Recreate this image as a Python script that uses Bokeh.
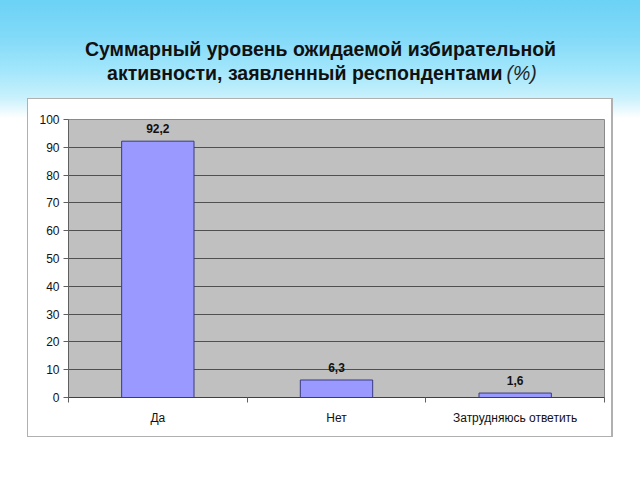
from bokeh.plotting import figure
from bokeh.layouts import column
from bokeh.models import ColumnDataSource, LabelSet, FixedTicker, Range1d
from bokeh.core.properties import value
from bokeh.embed import file_html
from bokeh.resources import INLINE

categories = ["Да", "Нет", "Затрудняюсь ответить"]
values = [92.2, 6.3, 1.6]
y_ticks = [0, 10, 20, 30, 40, 50, 60, 70, 80, 90, 100]
title_line1 = "Суммарный уровень ожидаемой избирательной"
title_line2 = "активности, заявленный респондентами"
title_unit = "(%)"

FONT = "Liberation Sans"
LEFT, RIGHT = 68, 36

# ---------- header (title) ----------
h = figure(width=640, height=98, output_backend="svg", toolbar_location=None,
           x_range=Range1d(LEFT, 640 - RIGHT), y_range=Range1d(98, 0),
           x_axis_type=None, y_axis_type=None,
           min_border_left=LEFT, min_border_right=RIGHT, min_border_top=0, min_border_bottom=0)
h.grid.visible = False
h.outline_line_color = None
h.background_fill_alpha = 0
h.border_fill_alpha = 0
h.styles = {"background": "linear-gradient(to bottom, #6bd2f6 0px, #80d9f8 35px, #a2e6fb 70px, #c9f1fc 98px)"}

h.text(x=[320], y=[48], text=[title_line1], text_align="center", text_baseline="middle",
       text_font=value(FONT), text_font_size="19.5px", text_font_style="bold", text_color="#111111")
h.text(x=[502], y=[72], text=[title_line2], text_align="right", text_baseline="middle",
       text_font=value(FONT), text_font_size="19.5px", text_font_style="bold", text_color="#111111")
h.text(x=[506], y=[72], text=[title_unit], text_align="left", text_baseline="middle",
       text_font=value(FONT), text_font_size="19.5px", text_font_style="italic", text_color="#222222")

# ---------- chart ----------
xpos = [i + 0.5 for i in range(len(categories))]
labels = [f"{v:.1f}".replace(".", ",") for v in values]
src = ColumnDataSource(dict(x=xpos, top=values, label=labels))

p = figure(width=640, height=382, output_backend="svg", toolbar_location=None,
           x_range=Range1d(0, len(categories)), y_range=Range1d(0, 100),
           min_border_left=LEFT, min_border_right=RIGHT, min_border_top=21, min_border_bottom=83)
p.border_fill_alpha = 0
p.styles = {
    "background": ("linear-gradient(#ffffff,#ffffff) 28px 1px / 583px 337px no-repeat, "
                   "linear-gradient(#b0b0b0,#b0b0b0) 27px 0px / 586px 339px no-repeat, "
                   "linear-gradient(to bottom, #c9f1fc 0px, #ffffff 20px, #ffffff 100%)")
}
p.background_fill_color = "#c0c0c0"
p.outline_line_color = "#8a8a8a"

p.vbar(x="x", top="top", width=0.405, source=src, fill_color="#9999ff",
       line_color="#3b3b80", line_width=1)

p.add_layout(LabelSet(x="x", y="top", text="label", source=src, text_align="center",
                      text_baseline="bottom", y_offset=8, text_font_size="12px",
                      text_font_style="bold", text_font=value(FONT), text_color="#111111"))

p.xgrid.visible = False
p.ygrid.ticker = FixedTicker(ticks=y_ticks)
p.ygrid.grid_line_color = "#505050"
p.ygrid.grid_line_width = 1

p.yaxis.ticker = FixedTicker(ticks=y_ticks)
p.yaxis.major_label_text_font = FONT
p.yaxis.major_label_text_font_size = "12px"
p.yaxis.major_label_text_color = "#111111"
p.yaxis.axis_line_color = "#606060"
p.yaxis.major_tick_line_color = "#606060"
p.yaxis.major_tick_in = 0
p.yaxis.major_tick_out = 5
p.yaxis.minor_tick_line_color = None
p.yaxis.major_label_standoff = 4

p.xaxis.ticker = FixedTicker(ticks=xpos, minor_ticks=list(range(len(categories) + 1)))
p.xaxis.major_label_overrides = {x: c for x, c in zip(xpos, categories)}
p.xaxis.major_label_text_font = FONT
p.xaxis.major_label_text_font_size = "12px"
p.xaxis.major_label_text_color = "#111111"
p.xaxis.major_tick_line_color = None
p.xaxis.major_tick_in = 0
p.xaxis.major_tick_out = 0
p.xaxis.minor_tick_line_color = "#606060"
p.xaxis.minor_tick_in = 0
p.xaxis.minor_tick_out = 5
p.xaxis.major_label_standoff = 8
p.xaxis.axis_line_color = "#404040"

layout = column(h, p, spacing=0)
open("out.html", "w").write(file_html(layout, INLINE))
